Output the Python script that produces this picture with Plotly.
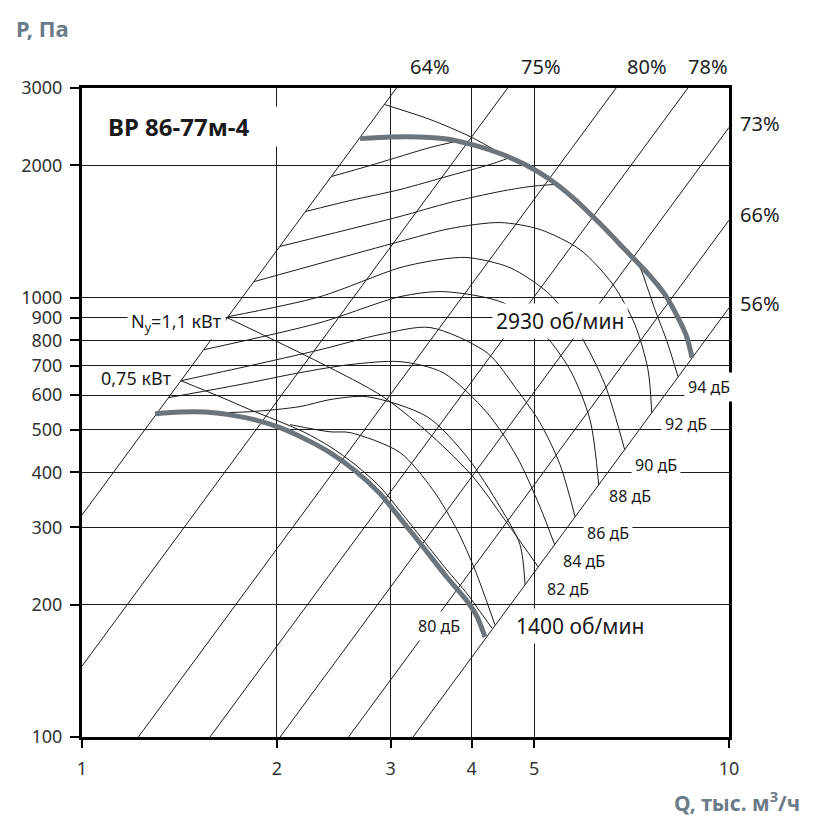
import plotly.graph_objects as go

# ---------------- data ----------------
x_ticks = [1, 2, 3, 4, 5, 10]
y_ticks = [100, 200, 300, 400, 500, 600, 700, 800, 900, 1000, 2000, 3000]

# system (efficiency) lines P = k*Q^2 : end points
ray_labels = ["64%", "75%", "80%", "78%", "73%", "66%", "56%"]
ray_q0 = [1.0, 1.0, 1.222, 1.577, 2.024, 2.582, 3.248]
ray_p0 = [320, 145, 100, 100, 100, 100, 100]
ray_q1 = [3.062, 4.549, 6.692, 8.639, 10.0, 10.0, 10.0]
ray_p1 = [3000, 3000, 3000, 3000, 2440, 1500, 948]

# main fan curves
q_2930 = [2.690, 2.992, 3.330, 3.706, 4.050, 4.427, 4.838, 5.289, 5.781, 6.318, 6.907, 7.496, 7.962, 8.341, 8.612, 8.768]
p_2930 = [2302, 2320, 2320, 2291, 2220, 2128, 2009, 1857, 1672, 1474, 1286, 1134, 1016, 900, 811, 730]
q_1400 = [1.297, 1.417, 1.549, 1.693, 1.851, 2.023, 2.211, 2.417, 2.642, 2.888, 3.101, 3.365, 3.665, 3.936, 4.079, 4.197]
p_1400 = [544, 549, 549, 541, 527, 506, 477, 444, 404, 358, 315, 271, 231, 204, 188, 169]

# thin companion curves
q_2930_thin = [2.933, 3.451, 3.98, 4.506, 4.838, 5.289, 5.781, 6.318, 6.907, 7.285, 7.469, 7.685, 8.021, 8.341]
p_2930_thin = [2752, 2544, 2326, 2106, 2009, 1857, 1672, 1474, 1286, 1170, 1060, 939, 794, 661]
q_1400_thin = [1.422, 1.634, 1.818, 2.023, 2.211, 2.417, 2.642, 2.888, 3.101, 3.365, 3.665, 3.936, 4.122, 4.302]
p_1400_thin = [647, 595, 556, 522, 493, 458, 417, 371, 327, 281, 240, 212, 193, 177]
q_n11 = [1.677, 2.333, 2.919, 3.487, 4.021, 4.539, 5.07]
p_n11 = [900, 711, 595, 482, 391, 307, 244]

# intermediate curves
q_a = [2.428, 2.787, 3.101, 3.451, 3.85]
p_a = [1886, 1998, 2095, 2196, 2280]
q_b = [2.215, 2.596, 3.101, 3.706, 4.272, 4.587]
p_b = [1570, 1663, 1762, 1896, 2009, 2084]
q_c = [2.021, 2.505, 3.101, 3.706, 4.427, 4.924, 5.38]
p_c = [1307, 1414, 1530, 1646, 1744, 1790, 1810]
q_92 = [1.843, 2.417, 3.101, 3.706, 4.427, 5.104, 5.884, 6.617, 7.156, 7.496, 7.596]
p_92 = [1087, 1214, 1342, 1436, 1482, 1429, 1286, 1071, 868, 685, 547]
q_90 = [1.682, 2.333, 3.101, 3.575, 3.936, 4.587, 5.289, 5.884, 6.43, 6.897]
p_90 = [905, 1005, 1170, 1221, 1234, 1170, 1016, 824, 634, 451]
q_88 = [1.542, 2.333, 3.101, 3.614, 4.474, 5.104, 5.679, 6.098, 6.29]
p_88 = [761, 877, 1005, 1032, 974, 846, 685, 527, 375]
q_86 = [1.422, 1.818, 2.333, 2.888, 3.451, 4.227, 4.702, 5.104, 5.48, 5.783]
p_86 = [647, 700, 761, 824, 855, 749, 617, 519, 417, 317]
q_84 = [1.360, 1.755, 2.173, 2.596, 3.101, 3.614, 4.227, 4.702, 5.104, 5.376]
p_84 = [592, 634, 675, 704, 715, 675, 547, 434, 334, 274]
q_82 = [1.304, 1.818, 2.173, 2.417, 2.757, 3.414, 3.936, 4.427, 4.753, 4.84]
p_82 = [544, 550, 565, 586, 595, 536, 434, 334, 274, 222]
q_80 = [2.097, 2.417, 2.596, 3.101, 3.487, 3.799, 4.05, 4.348]
p_80 = [514, 495, 493, 444, 365, 296, 240, 180]

db_labels = ["94 дБ", "92 дБ", "90 дБ", "88 дБ", "86 дБ", "84 дБ", "82 дБ", "80 дБ"]

# ---------------- figure ----------------
FONT = "Noto Sans"
THIN = dict(color="#1a1a1a", width=1)
THICK_COLOR = "#6d757c"

fig = go.Figure()

for q0, q1, p0, p1 in zip(ray_q0, ray_q1, ray_p0, ray_p1):
    fig.add_trace(go.Scatter(x=[q0, q1], y=[p0, p1], mode="lines", line=THIN,
                             hoverinfo="skip", showlegend=False))

thin_curves = [(q_a, p_a), (q_b, p_b), (q_c, p_c), (q_92, p_92), (q_90, p_90),
               (q_88, p_88), (q_86, p_86), (q_84, p_84), (q_82, p_82), (q_80, p_80),
               (q_n11, p_n11), (q_2930_thin, p_2930_thin), (q_1400_thin, p_1400_thin)]
for qq, pp in thin_curves:
    fig.add_trace(go.Scatter(x=qq, y=pp, mode="lines",
                             line=dict(color="#1a1a1a", width=1, shape="spline", smoothing=0.8),
                             hoverinfo="skip", showlegend=False))

for qq, pp in [(q_2930, p_2930), (q_1400, p_1400)]:
    fig.add_trace(go.Scatter(x=qq, y=pp, mode="lines",
                             line=dict(color=THICK_COLOR, width=5, shape="spline", smoothing=0.6),
                             hoverinfo="skip", showlegend=False))

# plot area in pixels: x 82..729, y 88..737
PX0, PW, PY1, PH = 82, 647, 737, 649


def ann(text, x, y, size, bg=True, bold=False, color="#1a1a1a", xanchor="center", **kw):
    fig.add_annotation(
        text=f"<b>{text}</b>" if bold else text,
        x=(x - PX0) / PW, y=(PY1 - y) / PH, xref="paper", yref="paper",
        xanchor=xanchor, yanchor="middle", showarrow=False,
        font=dict(family=FONT, size=size, color=color),
        bgcolor="white" if bg else "rgba(0,0,0,0)", borderpad=3, **kw)


ann("BP 86-77м-4", 104, 127, 24, bold=True, xanchor="left", width=172, align="left")
ann("N<sub>у</sub>=1,1 кВт", 176, 322, 18)
ann("0,75 кВт", 136, 378, 18, bg=False)
ann("2930 об/мин", 560, 321, 21)
ann("1400 об/мин", 580, 626, 21)

db_pos = [(709, 387), (686, 424), (656, 465), (630, 496), (608, 533), (584, 561), (568, 589), (439, 626)]
for lab, (x, y) in zip(db_labels, db_pos):
    ann(lab, x, y, 16)

pct_pos = [(430, 66), (541, 66), (647, 66), (708, 66), (760, 123), (760, 214), (760, 303)]
for lab, (x, y) in zip(ray_labels, pct_pos):
    ann(lab, x, y, 20, bg=False, color="#222222")

ann("P, Па", 42, 28, 22, bg=False, bold=True, color="#6b7b88")
ann("Q, тыс. м<sup>3</sup>/ч", 804, 801, 21, bg=False, bold=True, color="#6b7b88", xanchor="right")

axis_common = dict(
    type="log", showgrid=True, gridcolor="#1a1a1a", gridwidth=1,
    showline=True, linecolor="black", linewidth=3, mirror=True,
    ticks="outside", tickcolor="black", tickwidth=1.5,
    tickfont=dict(family=FONT, size=18, color="#333333"),
    zeroline=False,
)
fig.update_xaxes(range=[0, 1], tickvals=x_ticks, ticktext=[str(v) for v in x_ticks],
                 ticklen=8, ticklabelstandoff=5, **axis_common)
fig.update_yaxes(range=[2, 3.4771], tickvals=y_ticks, ticktext=[str(v) for v in y_ticks],
                 ticklen=9, ticklabelstandoff=4, **axis_common)

fig.update_layout(
    width=814, height=816,
    margin=dict(l=82, r=85, t=88, b=79),
    paper_bgcolor="white", plot_bgcolor="white",
    showlegend=False,
)

fig.write_html("out.html")
